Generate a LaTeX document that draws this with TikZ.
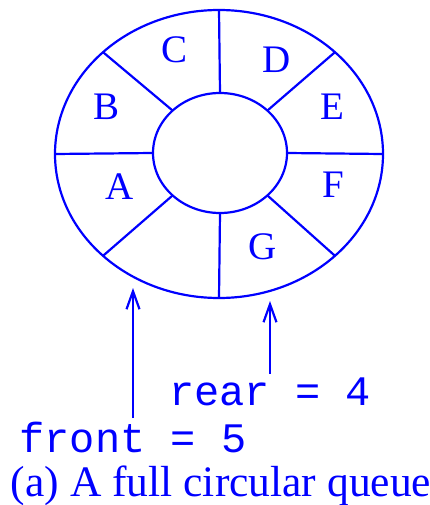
\documentclass[tikz,border=0pt]{standalone}
\usepackage{fontspec}
\setmainfont{Liberation Serif}
\setmonofont{Liberation Mono}
\usetikzlibrary{arrows.meta}
\definecolor{qblue}{RGB}{0,0,255}
\tikzset{
    ring/.style={qblue, line width=2.2pt},
    slot/.style={qblue, font=\fontsize{39}{39}\selectfont},
    ptr/.style={qblue, anchor=base, font=\fontsize{42}{42}\selectfont\ttfamily},
    arr/.style={qblue, line width=2.2pt, -{Straight Barb[length=18pt,width=13pt,line width=2.2pt]}}
}
\begin{document}
\begin{tikzpicture}[x=1pt, y=-1pt]
    \useasboundingbox (0,0) rectangle (430,505);
    \draw[ring] (219,154) ellipse [x radius=164, y radius=144];
    \draw[ring] (220,153) ellipse [x radius=67, y radius=60];
    \foreach \a in {0,45,...,315}
        \draw[ring] ({219+164*cos(\a)},{154-144*sin(\a)}) -- ({220+67*cos(\a)},{153-60*sin(\a)});
    \foreach \l/\x/\y in {A/120/187, B/107/107, C/175/50, D/277/60, E/332/107, F/333/185, G/263/247}
        \node[slot] (slot\l) at (\x,\y) {\l};
    \coordinate (frontTip) at (133,288);
    \coordinate (rearTip) at (270,301);
    \node[ptr] (front) at (133,452) {front = 5};
    \node[ptr] (rear) at (270,405) {rear = 4};
    \draw[arr] (front.north) -- (frontTip);
    \draw[arr] (rear.north) -- (rearTip);
    \node[qblue, anchor=base, inner sep=0pt, font=\fontsize{43.5}{43.5}\selectfont] (caption) at (221,496) {(a) A full circular queue};
\end{tikzpicture}
\end{document}
